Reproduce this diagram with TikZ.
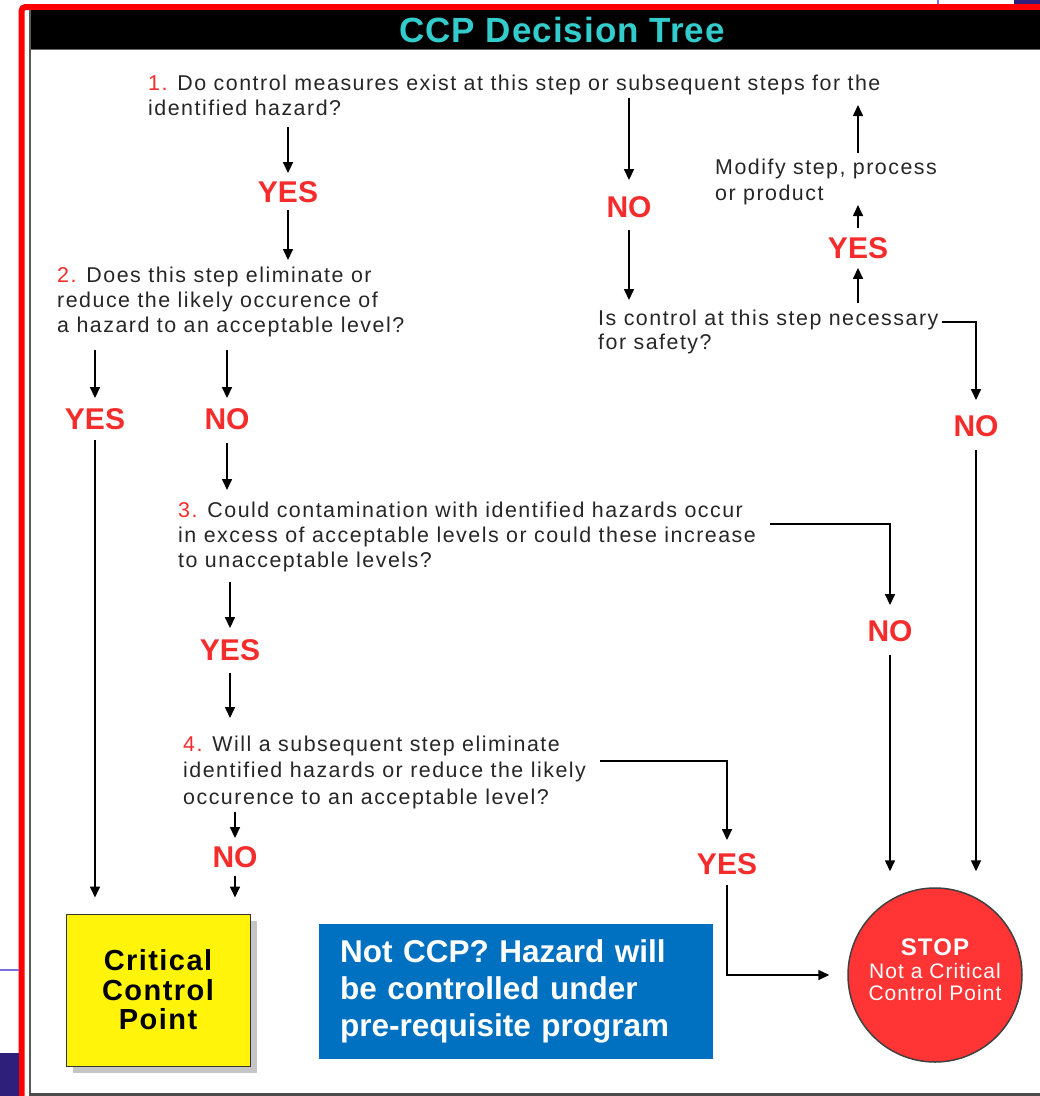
\documentclass[tikz,border=0pt]{standalone}
\usepackage{fontspec}
\setmainfont{Liberation Sans}
\newfontfamily\bodyfont[LetterSpace=7]{Liberation Sans}
\newfontfamily\boxfont[LetterSpace=5]{Liberation Sans}
\newfontfamily\titlefont[LetterSpace=3]{Liberation Sans}
\usetikzlibrary{arrows.meta,calc,shadows}
\definecolor{labred}{HTML}{F42C2C}
\definecolor{bodygray}{HTML}{262626}
\definecolor{titlecyan}{HTML}{33CCCC}
\definecolor{ccpyellow}{HTML}{FFF40A}
\definecolor{stopred}{HTML}{FF3535}
\definecolor{noteblue}{HTML}{0070C0}
\definecolor{purpdark}{HTML}{2E1F7A}
\definecolor{purpline}{HTML}{7A6FE0}
\tikzset{
  qline/.style={anchor=base west, inner sep=0pt, text=bodygray,
    font=\bodyfont\fontsize{21.4}{25}\selectfont},
  lab/.style={inner sep=0pt, text=labred, text height=21.5pt, text depth=0pt,
    font=\bfseries\fontsize{30}{30}\selectfont},
  conn/.style={draw=black, line width=1.6pt, -{Triangle[width=10pt,length=11pt]}},
  ccpbox/.style={draw=black!80, line width=1pt, fill=ccpyellow, minimum width=184pt,
    minimum height=152pt, inner sep=0pt, align=center,
    drop shadow={shadow xshift=7pt, shadow yshift=-7pt, fill=black!45},
    font=\boxfont\bfseries\fontsize{29}{29.5}\selectfont},
  stopcirc/.style={circle, draw=black!75, line width=1.5pt, fill=stopred,
    minimum size=174pt, inner sep=0pt},
  stoptext/.style={anchor=base, inner sep=0pt, text=white},
  notebox/.style={fill=noteblue, text=white, anchor=north west, text width=352pt,
    inner xsep=21pt, inner ysep=0pt, minimum height=135pt, align=left,
    font=\bfseries\fontsize{31.5}{37}\selectfont}
}
\begin{document}
\begin{tikzpicture}[x=1pt,y=-1pt]
\useasboundingbox (0,0) rectangle (1040,1096);
\clip (0,0) rectangle (1040,1096);
\fill[white] (0,0) rectangle (1040,1096);
% frame
\draw[red, line width=6pt, rounded corners=4pt] (21.5,7) rectangle (1080,1130);
\fill[black] (29,10) rectangle (1040,49);
\draw[black!60, line width=1.5pt] (29,49.5) -- (1040,49.5);
\draw[black!65, line width=2.5pt] (30,10) -- (30,1096);
\draw[black!70, line width=3pt] (29,1094.5) -- (1040,1094.5);
\fill[purpdark] (1014,0) rectangle (1040,4);
\draw[purpline, line width=2pt] (937.5,0) -- (937.5,4);
\draw[purpline, line width=2pt] (0,970) -- (18.5,970);
\fill[purpdark] (0,1053) rectangle (18.5,1096);
% title
\node[anchor=base, inner sep=0pt, text=titlecyan,
  font=\titlefont\bfseries\fontsize{35}{35}\selectfont] (title) at (562,42) {CCP Decision Tree};
% question 1
\node[qline] (q1l1) at (148,90) {\textcolor{labred}{1.} Do control measures exist at this step or subsequent steps for the};
\node[qline] (q1l2) at (148,115) {identified hazard?};
% question 2
\node[qline] (q2l1) at (57,282) {\textcolor{labred}{2.} Does this step eliminate or};
\node[qline] (q2l2) at (57,307) {reduce the likely occurence of};
\node[qline] (q2l3) at (57,332) {a hazard to an acceptable level?};
% question 3
\node[qline] (q3l1) at (178,517) {\textcolor{labred}{3.} Could contamination with identified hazards occur};
\node[qline] (q3l2) at (178,542) {in excess of acceptable levels or could these increase};
\node[qline] (q3l3) at (178,567) {to unacceptable levels?};
% question 4
\node[qline] (q4l1) at (183,751) {\textcolor{labred}{4.} Will a subsequent step eliminate};
\node[qline] (q4l2) at (183,777) {identified hazards or reduce the likely};
\node[qline] (q4l3) at (183,804) {occurence to an acceptable level?};
% side column
\node[qline] (modl1) at (715,174) {Modify step, process};
\node[qline] (modl2) at (715,200) {or product};
\node[qline] (qsl1) at (598,325) {Is control at this step necessary};
\node[qline] (qsl2) at (598,349) {for safety?};
% labels
\node[lab] (yes1) at (288,192) {YES};
\node[lab] (yes2) at (95,419) {YES};
\node[lab] (no2) at (227,419) {NO};
\node[lab] (no3) at (890,631) {NO};
\node[lab] (yes3) at (230,650) {YES};
\node[lab] (yes4) at (727,864) {YES};
\node[lab] (no4) at (235,857) {NO};
\node[lab] (no1) at (629,207) {NO};
\node[lab] (yesS) at (858,248) {YES};
\node[lab] (noS) at (976,426) {NO};
% end boxes
\node[ccpbox] (ccp) at (158,990) {Critical\\Control\\Point};
\node[stopcirc] (stop) at (935,975) {};
\node[stoptext, font=\boxfont\bfseries\fontsize{24}{24}\selectfont] (stop1) at (935,955) {STOP};
\node[stoptext, font=\boxfont\fontsize{21}{23}\selectfont] (stop2) at (935,978) {Not a Critical};
\node[stoptext, font=\boxfont\fontsize{21}{23}\selectfont] (stop3) at (935,1000) {Control Point};
\node[notebox] (note) at (319,924) {Not CCP? Hazard will\\be controlled under\\pre-requisite program};
% connectors
\draw[conn, shorten <=12pt, shorten >=8pt] (q1l2.base -| yes1.north) -- (yes1.north);
\draw[conn, shorten <=7pt, shorten >=22pt] (yes1.south) -- (yes1.south |- q2l1.base);
\draw[conn, shorten <=18pt, shorten >=10pt] (q2l3.base -| yes2.north) -- (yes2.north);
\draw[conn, shorten <=10pt, shorten >=16pt] (yes2.south) -- (yes2.south |- ccp.north);
\draw[conn, shorten <=18pt, shorten >=10pt] (q2l3.base -| no2.north) -- (no2.north);
\draw[conn, shorten <=13pt, shorten >=27pt] (no2.south) -- (no2.south |- q3l1.base);
\draw[conn, shorten >=15pt] ($(q3l1.base -| no3.north)+(-120,7)$) -| (no3.north);
\draw[conn, shorten <=13pt, shorten >=16pt] (no3.south) -- (no3.south |- stop.north);
\draw[conn, shorten <=15pt, shorten >=11pt] (q3l3.base -| yes3.north) -- (yes3.north);
\draw[conn, shorten <=12pt, shorten >=33pt] (yes3.south) -- (yes3.south |- q4l1.base);
\draw[conn, shorten >=13pt] ($(q4l1.base -| yes4.north)+(-127,10)$) -| (yes4.north);
\draw[conn, shorten <=10pt, shorten >=18pt] (yes4.south) |- (stop.west);
\draw[conn, shorten <=8pt, shorten >=8pt] (q4l3.base -| no4.north) -- (no4.north);
\draw[conn, shorten <=8pt, shorten >=16pt] (no4.south) -- (no4.south |- ccp.north);
\draw[conn, shorten <=8pt, shorten >=16pt] (q1l1.base -| no1.north) -- (no1.north);
\draw[conn, shorten <=12pt, shorten >=25pt] (no1.south) -- (no1.south |- qsl1.base);
\draw[conn, shorten >=15pt] ($(qsl1.base -| noS.north)+(-34,-3)$) -| (noS.north);
\draw[conn, shorten <=13pt, shorten >=16pt] (noS.south) -- (noS.south |- stop.north);
\draw[conn, shorten <=22pt, shorten >=9pt] (qsl1.base -| yesS.south) -- (yesS.south);
\draw[conn, shorten <=9pt, shorten >=5pt] (yesS.north) -- (yesS.north |- modl2.base);
\draw[conn, shorten <=21pt, shorten >=15pt] (modl1.base -| yesS.north) -- (yesS.north |- q1l1.base);
\end{tikzpicture}
\end{document}
